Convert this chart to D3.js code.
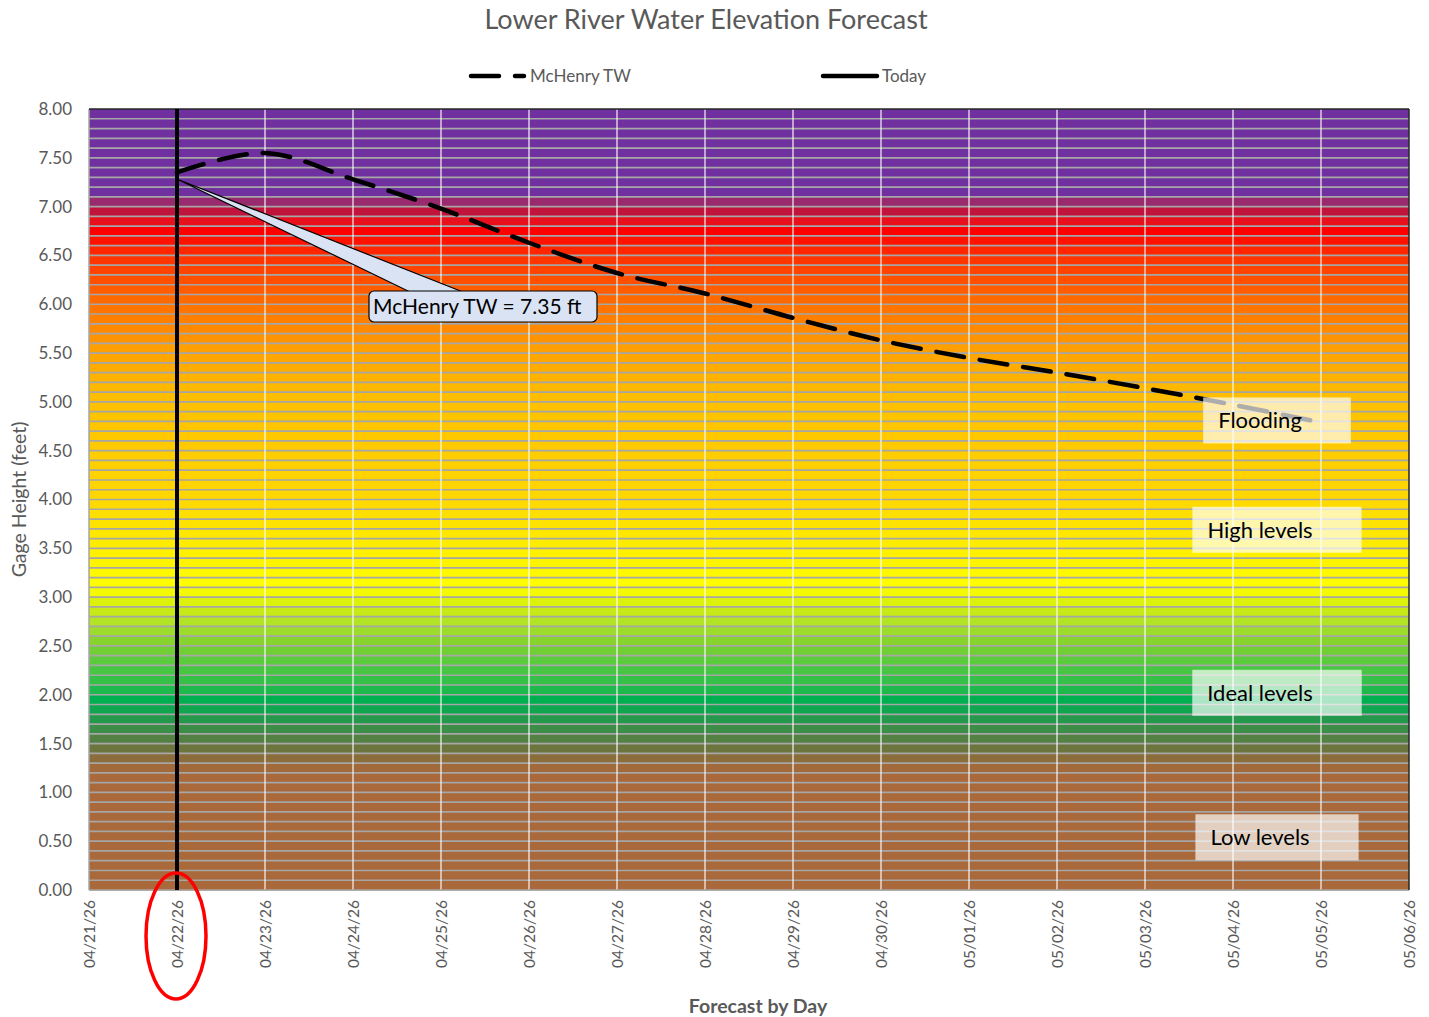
<!DOCTYPE html>
<html>
<head>
<meta charset="utf-8">
<script src="https://cdn.jsdelivr.net/npm/d3@7"></script>
<style>
  body { margin: 0; background: #fff; }
  text { font-family: Lato, "Open Sans", sans-serif; }
</style>
</head>
<body>
<svg id="chart"></svg>
<script>
// data
var days = ["04/21/26","04/22/26","04/23/26","04/24/26","04/25/26","04/26/26","04/27/26","04/28/26",
            "04/29/26","04/30/26","05/01/26","05/02/26","05/03/26","05/04/26","05/05/26","05/06/26"]
var twDays = ["04/22/26","04/23/26","04/24/26","04/25/26","04/26/26","04/27/26","04/28/26",
              "04/29/26","04/30/26","05/01/26","05/02/26","05/03/26","05/04/26","05/05/26"]
var twValues = [7.35, 7.55, 7.28, 6.98, 6.63, 6.32, 6.11, 5.86, 5.63, 5.45, 5.30, 5.14, 4.97, 4.79]
var today = "04/22/26"
var currentTW = 7.35
var yTicks = [0, 0.5, 1, 1.5, 2, 2.5, 3, 3.5, 4, 4.5, 5, 5.5, 6, 6.5, 7, 7.5, 8]

// background colour stops (gage height -> colour)
var stopLevels = [0, 1.2, 1.3, 1.4, 1.5, 1.6, 1.7, 1.8, 1.95, 2.1, 2.3, 2.5, 2.7, 2.9, 3.1, 3.5, 4.0, 4.5, 5.0, 5.5, 6.0, 6.5, 6.75, 6.85, 6.95, 7.05, 7.15, 8]
var stopColors = ["#a9693a","#a9693a","#9a6a3a","#7a703c","#5f7a40","#478846","#2f9149","#18a04f","#00b050","#2cbe4a","#50c840","#7cd030","#a8e02c","#d0ec10","#ffff00","#ffee00","#ffd800","#ffcc00","#ffc000","#ffa400","#ff7000","#ff3000","#ff0000","#e8101c","#c0143c","#9a2a6e","#7030a0","#7030a0"]

var zoneNames = ["Flooding", "High levels", "Ideal levels", "Low levels"]
var zoneLevels = [4.81, 3.69, 2.02, 0.54]

var width = 1429
var height = 1017
var margin = {top: 109, right: 20, bottom: 127, left: 89}

var parse = d3.timeParse("%m/%d/%y")

var svg = d3.select("#chart")
    .attr("width", width)
    .attr("height", height)

var x = d3.scaleTime()
    .domain([parse(days[0]), parse(days[days.length - 1])])
    .range([margin.left, width - margin.right])

var y = d3.scaleLinear()
    .domain([0, 8])
    .range([height - margin.bottom, margin.top])

var color = d3.scaleLinear()
    .domain(stopLevels)
    .range(stopColors)

// colour bands, one per 0.1 ft
var bands = d3.range(80).map(i => i / 10)
svg.append("g")
  .selectAll("rect")
  .data(bands)
  .enter()
  .append("rect")
  .attr("x", x.range()[0])
  .attr("width", x.range()[1] - x.range()[0])
  .attr("y", d => y(d + 0.1))
  .attr("height", d => y(d) - y(d + 0.1) + 0.5)
  .attr("fill", d => color(d + 0.05))

// horizontal minor grid
svg.append("g")
  .selectAll("line")
  .data(d3.range(1, 80).map(i => i / 10))
  .enter()
  .append("line")
  .attr("x1", x.range()[0])
  .attr("x2", x.range()[1])
  .attr("y1", d => y(d))
  .attr("y2", d => y(d))
  .attr("stroke", "#a6a6a6")
  .attr("stroke-width", 1.7)

// vertical day grid
svg.append("g")
  .selectAll("line")
  .data(days.slice(1, -1).map(parse))
  .enter()
  .append("line")
  .attr("x1", d => x(d))
  .attr("x2", d => x(d))
  .attr("y1", y(8))
  .attr("y2", y(0))
  .attr("stroke", "#ffffff")
  .attr("stroke-opacity", 0.75)
  .attr("stroke-width", 1.5)

// plot frame
svg.append("line")
  .attr("x1", x.range()[0]).attr("x2", x.range()[0])
  .attr("y1", y(8)).attr("y2", y(0))
  .attr("stroke", "#a6a6a6").attr("stroke-width", 1.5)
svg.append("line")
  .attr("x1", x.range()[0]).attr("x2", x.range()[1])
  .attr("y1", y(0)).attr("y2", y(0))
  .attr("stroke", "#a6a6a6").attr("stroke-width", 1.5)
svg.append("line")
  .attr("x1", x.range()[0]).attr("x2", x.range()[1])
  .attr("y1", y(8)).attr("y2", y(8))
  .attr("stroke", "#262626").attr("stroke-width", 1.5)
svg.append("line")
  .attr("x1", x.range()[1]).attr("x2", x.range()[1])
  .attr("y1", y(8)).attr("y2", y(0))
  .attr("stroke", "#262626").attr("stroke-width", 1.5)

// McHenry TW line
var tw = twDays.map((d, i) => ({date: parse(d), value: twValues[i]}))
var line = d3.line()
    .x(d => x(d.date))
    .y(d => y(d.value))
    .curve(d3.curveCatmullRom.alpha(0.5))

svg.append("path")
  .datum(tw)
  .attr("d", line)
  .attr("fill", "none")
  .attr("stroke", "#000")
  .attr("stroke-width", 4.5)
  .attr("stroke-dasharray", "28,16")
  .attr("stroke-linecap", "round")

// today line
svg.append("line")
  .attr("x1", x(parse(today)))
  .attr("x2", x(parse(today)))
  .attr("y1", y(8))
  .attr("y2", y(0))
  .attr("stroke", "#000")
  .attr("stroke-width", 4)

// callout
var tipX = x(parse(today)) + 1
var tipY = y(currentTW) + 7
var boxX = 369, boxY = 291, boxW = 228, boxH = 31
svg.append("path")
  .attr("d", `M${tipX},${tipY} L${boxX + 41},${boxY + 1} L${boxX + 94},${boxY + 1} Z`)
  .attr("fill", "#dae3f3")
  .attr("stroke", "#000")
  .attr("stroke-width", 1.2)
svg.append("rect")
  .attr("x", boxX).attr("y", boxY)
  .attr("width", boxW).attr("height", boxH)
  .attr("rx", 5)
  .attr("fill", "#dae3f3")
  .attr("stroke", "#000")
  .attr("stroke-width", 1.2)
svg.append("text")
  .attr("x", boxX + 4)
  .attr("y", boxY + boxH / 2)
  .attr("dy", "0.36em")
  .attr("font-size", 21)
  .attr("fill", "#000")
  .text("McHenry TW = " + currentTW.toFixed(2) + " ft")

// zone labels
var zoneCx = x(d3.timeHour.offset(parse("05/04/26"), 12))
var zones = svg.append("g")
  .selectAll("g")
  .data(zoneNames)
  .enter()
  .append("g")

zones.each(function(name, i) {
  var g = d3.select(this)
  var t = g.append("text")
    .attr("font-size", 22)
    .attr("fill", "#000")
    .attr("dy", "0.36em")
    .text(name)
  var w = t.node().getComputedTextLength()
  var bw = w + 64
  var left = zoneCx - bw / 2
  g.insert("rect", "text")
    .attr("x", left)
    .attr("y", y(zoneLevels[i]) - 23)
    .attr("width", bw)
    .attr("height", 46)
    .attr("fill", "#fff")
    .attr("fill-opacity", 0.68)
  t.attr("x", left + 15).attr("y", y(zoneLevels[i]))
})

// y axis
var yAxis = svg.append("g")
  .attr("transform", `translate(${margin.left},0)`)
  .call(d3.axisLeft(y).tickValues(yTicks).tickFormat(d3.format(".2f")).tickSize(0).tickPadding(17))
yAxis.select(".domain").remove()
yAxis.selectAll("text")
  .attr("font-size", 17)
  .attr("fill", "#595959")
  .style("font-family", "Lato, sans-serif")

// x axis
var xAxis = svg.append("g")
  .attr("transform", `translate(0,${y(0)})`)
  .call(d3.axisBottom(x).tickValues(days.map(parse)).tickFormat(d3.timeFormat("%m/%d/%y")).tickSize(0))
xAxis.select(".domain").remove()
xAxis.selectAll("text")
  .attr("transform", "rotate(-90)")
  .attr("x", -10)
  .attr("y", 0)
  .attr("dy", "0.35em")
  .style("text-anchor", "end")
  .style("font-family", "Lato, sans-serif")
  .attr("font-size", 15.5)
  .attr("fill", "#595959")

// titles
svg.append("text")
  .attr("x", 706)
  .attr("y", 29)
  .attr("text-anchor", "middle")
  .attr("font-size", 27)
  .attr("fill", "#595959")
  .text("Lower River Water Elevation Forecast")

svg.append("text")
  .attr("transform", `translate(26,${(y(0) + y(8)) / 2}) rotate(-90)`)
  .attr("text-anchor", "middle")
  .attr("font-size", 19.5)
  .attr("fill", "#595959")
  .text("Gage Height (feet)")

svg.append("text")
  .attr("x", 758)
  .attr("y", 1013)
  .attr("text-anchor", "middle")
  .attr("font-size", 19.5)
  .attr("font-weight", "bold")
  .attr("fill", "#595959")
  .text("Forecast by Day")

// legend
var legend = svg.append("g")
legend.append("line")
  .attr("x1", 471).attr("x2", 524)
  .attr("y1", 76).attr("y2", 76)
  .attr("stroke", "#000").attr("stroke-width", 4.5)
  .attr("stroke-dasharray", "28,16").attr("stroke-linecap", "round")
legend.append("text")
  .attr("x", 530).attr("y", 76).attr("dy", "0.36em")
  .attr("font-size", 17).attr("fill", "#595959")
  .text("McHenry TW")
legend.append("line")
  .attr("x1", 823).attr("x2", 877)
  .attr("y1", 76).attr("y2", 76)
  .attr("stroke", "#000").attr("stroke-width", 4.5)
  .attr("stroke-linecap", "round")
legend.append("text")
  .attr("x", 882).attr("y", 76).attr("dy", "0.36em")
  .attr("font-size", 17).attr("fill", "#595959")
  .text("Today")

// red ellipse highlighting today
svg.append("ellipse")
  .attr("cx", x(parse(today)) - 1)
  .attr("cy", 936)
  .attr("rx", 30)
  .attr("ry", 63)
  .attr("fill", "none")
  .attr("stroke", "#ff0000")
  .attr("stroke-width", 3.5)
</script>
</body>
</html>
